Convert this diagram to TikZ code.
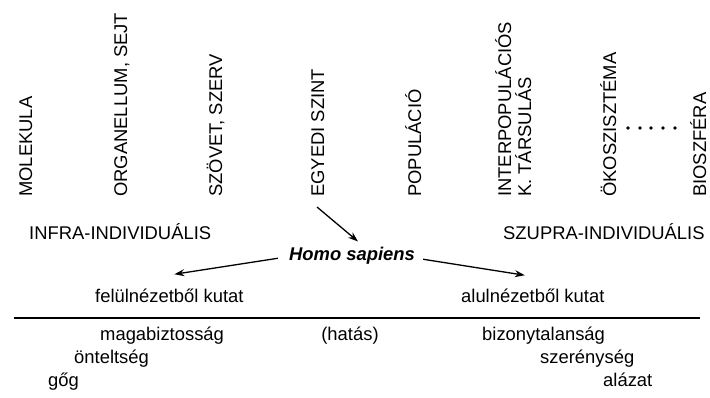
\documentclass[tikz,border=0pt]{standalone}
\usepackage{fontspec}
\setmainfont{Liberation Sans}
\usetikzlibrary{arrows.meta}
\tikzset{
  lab/.style={inner sep=0pt, font=\fontsize{18.4}{22}\selectfont},
  tlab/.style={lab, anchor=base west},
  vlab/.style={lab, rotate=90, anchor=base west},
  arr/.style={line width=1.3pt, -{Stealth[length=10pt,width=7pt]}},
  rule/.style={line width=1.3pt},
  dotmark/.style={fill=black}
}
\begin{document}
\begin{tikzpicture}[x=1pt,y=-1pt]
\path[use as bounding box] (0,0) rectangle (710,397);
% vertical level labels
\node[vlab] (molekula) at (32,197) {MOLEKULA};
\node[vlab] (organellum) at (127,197) {ORGANELLUM, SEJT};
\node[vlab] (szovet) at (222,197) {SZÖVET, SZERV};
\node[vlab] (egyedi) at (324,197) {EGYEDI SZINT};
\node[vlab] (populacio) at (421,197) {POPULÁCIÓ};
\node[vlab] (interpop) at (511,197) {INTERPOPULÁCIÓS};
\node[vlab] (tarsulas) at (531,197) {K. TÁRSULÁS};
\node[vlab] (okosz) at (616,197) {ÖKOSZISZTÉMA};
\node[vlab] (bioszfera) at (706,197) {BIOSZFÉRA};
% dots
\foreach \xx in {628,640,651,663,675} \fill[dotmark] (\xx,128) circle (1.9);
% group labels
\node[tlab] (infra) at (29,239) {INFRA-INDIVIDUÁLIS};
\node[tlab] (szupra) at (503,239) {SZUPRA-INDIVIDUÁLIS};
% Homo sapiens
\node[lab, anchor=base, font=\fontsize{18.4}{22}\selectfont\bfseries\itshape] (homo) at (352,260) {Homo sapiens};
% research directions
\node[tlab] (felul) at (95,302) {felülnézetből kutat};
\node[tlab] (alul) at (461,302) {alulnézetből kutat};
% arrows
\draw[arr] ([shift={(-7,10)}]egyedi.base west) -- ([shift={(6,-5)}]homo.north);
\draw[arr] ([shift={(-11,3)}]homo.west) -- ([shift={(5,-14)}]felul.north);
\draw[arr] ([shift={(8,4)}]homo.east) -- ([shift={(-8,-13)}]alul.north);
% divider
\coordinate (ruleL) at (14,318);
\coordinate (ruleR) at (700,318);
\draw[rule] (ruleL) -- (ruleR);
% attitudes
\node[tlab] (maga) at (100,340) {magabiztosság};
\node[lab, anchor=base] (hatas) at (350,340) {(hatás)};
\node[tlab] (bizony) at (482,340) {bizonytalanság};
\node[tlab] (ontelt) at (74,363) {önteltség};
\node[tlab] (szereny) at (540,363) {szerénység};
\node[tlab] (gog) at (48,386) {gőg};
\node[tlab] (alazat) at (603,386) {alázat};
\end{tikzpicture}
\end{document}
